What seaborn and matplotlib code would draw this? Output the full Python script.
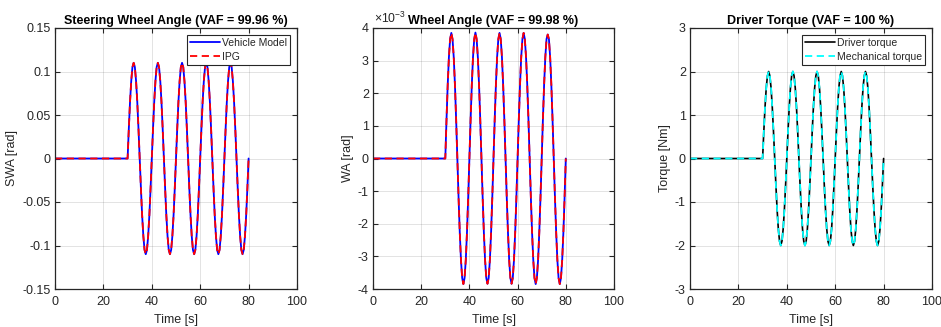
import matplotlib
matplotlib.use("Agg")
import matplotlib.pyplot as plt
import seaborn as sns
import pandas as pd

# ---------------- data ----------------
time_s = [0.0,
    30.0, 30.5, 31.0, 31.5, 32.0, 32.5, 33.0, 33.5, 34.0, 34.5, 35.0, 35.5, 36.0, 36.5, 37.0, 37.5, 38.0, 38.5, 39.0, 39.5,
    40.0, 40.5, 41.0, 41.5, 42.0, 42.5, 43.0, 43.5, 44.0, 44.5, 45.0, 45.5, 46.0, 46.5, 47.0, 47.5, 48.0, 48.5, 49.0, 49.5,
    50.0, 50.5, 51.0, 51.5, 52.0, 52.5, 53.0, 53.5, 54.0, 54.5, 55.0, 55.5, 56.0, 56.5, 57.0, 57.5, 58.0, 58.5, 59.0, 59.5,
    60.0, 60.5, 61.0, 61.5, 62.0, 62.5, 63.0, 63.5, 64.0, 64.5, 65.0, 65.5, 66.0, 66.5, 67.0, 67.5, 68.0, 68.5, 69.0, 69.5,
    70.0, 70.5, 71.0, 71.5, 72.0, 72.5, 73.0, 73.5, 74.0, 74.5, 75.0, 75.5, 76.0, 76.5, 77.0, 77.5, 78.0, 78.5, 79.0, 79.5,
    80.0]

swa_rad = [0.0,
    0.0, 0.034, 0.065, 0.089, 0.105, 0.110, 0.105, 0.089, 0.065, 0.034, 0.0, -0.034, -0.065, -0.089, -0.105, -0.110, -0.105, -0.089, -0.065, -0.034,
    0.0, 0.034, 0.065, 0.089, 0.105, 0.110, 0.105, 0.089, 0.065, 0.034, 0.0, -0.034, -0.065, -0.089, -0.105, -0.110, -0.105, -0.089, -0.065, -0.034,
    0.0, 0.034, 0.065, 0.089, 0.105, 0.110, 0.105, 0.089, 0.065, 0.034, 0.0, -0.034, -0.065, -0.089, -0.105, -0.110, -0.105, -0.089, -0.065, -0.034,
    0.0, 0.034, 0.065, 0.089, 0.105, 0.110, 0.105, 0.089, 0.065, 0.034, 0.0, -0.034, -0.065, -0.089, -0.105, -0.110, -0.105, -0.089, -0.065, -0.034,
    0.0, 0.034, 0.065, 0.089, 0.105, 0.110, 0.105, 0.089, 0.065, 0.034, 0.0, -0.034, -0.065, -0.089, -0.105, -0.110, -0.105, -0.089, -0.065, -0.034,
    0.0]

wa_mrad = [0.0,
    0.0, 1.19, 2.26, 3.11, 3.66, 3.85, 3.66, 3.11, 2.26, 1.19, 0.0, -1.19, -2.26, -3.11, -3.66, -3.85, -3.66, -3.11, -2.26, -1.19,
    0.0, 1.19, 2.26, 3.11, 3.66, 3.86, 3.66, 3.11, 2.26, 1.19, 0.0, -1.19, -2.26, -3.11, -3.66, -3.84, -3.66, -3.11, -2.26, -1.19,
    0.0, 1.19, 2.26, 3.11, 3.66, 3.85, 3.66, 3.11, 2.26, 1.19, 0.0, -1.19, -2.26, -3.11, -3.66, -3.84, -3.66, -3.11, -2.26, -1.19,
    0.0, 1.19, 2.26, 3.11, 3.66, 3.85, 3.66, 3.11, 2.26, 1.19, 0.0, -1.19, -2.26, -3.11, -3.66, -3.85, -3.66, -3.11, -2.26, -1.19,
    0.0, 1.19, 2.26, 3.11, 3.66, 3.80, 3.66, 3.11, 2.26, 1.19, 0.0, -1.19, -2.26, -3.11, -3.66, -3.85, -3.66, -3.11, -2.26, -1.19,
    0.0]

torque_nm = [0.0,
    0.0, 0.62, 1.18, 1.62, 1.90, 2.00, 1.90, 1.62, 1.18, 0.62, 0.0, -0.62, -1.18, -1.62, -1.90, -2.00, -1.90, -1.62, -1.18, -0.62,
    0.0, 0.62, 1.18, 1.62, 1.90, 2.00, 1.90, 1.62, 1.18, 0.62, 0.0, -0.62, -1.18, -1.62, -1.90, -2.00, -1.90, -1.62, -1.18, -0.62,
    0.0, 0.62, 1.18, 1.62, 1.90, 2.00, 1.90, 1.62, 1.18, 0.62, 0.0, -0.62, -1.18, -1.62, -1.90, -2.00, -1.90, -1.62, -1.18, -0.62,
    0.0, 0.62, 1.18, 1.62, 1.90, 2.00, 1.90, 1.62, 1.18, 0.62, 0.0, -0.62, -1.18, -1.62, -1.90, -2.00, -1.90, -1.62, -1.18, -0.62,
    0.0, 0.62, 1.18, 1.62, 1.90, 2.00, 1.90, 1.62, 1.18, 0.62, 0.0, -0.62, -1.18, -1.62, -1.90, -2.00, -1.90, -1.62, -1.18, -0.62,
    0.0]

x_ticks = [0, 20, 40, 60, 80, 100]
swa_ticks = [-0.15, -0.1, -0.05, 0, 0.05, 0.1, 0.15]
swa_ticklabels = ["-0.15", "-0.1", "-0.05", "0", "0.05", "0.1", "0.15"]
wa_ticks = [-4, -3, -2, -1, 0, 1, 2, 3, 4]
wa_ticklabels = ["-4", "-3", "-2", "-1", "0", "1", "2", "3", "4"]
tq_ticks = [-3, -2, -1, 0, 1, 2, 3]
tq_ticklabels = ["-3", "-2", "-1", "0", "1", "2", "3"]

titles = ["Steering Wheel Angle (VAF = 99.96 %)",
          "Wheel Angle (VAF = 99.98 %)",
          "Driver Torque (VAF = 100 %)"]
ylabels = ["SWA [rad]", "WA [rad]", "Torque [Nm]"]
legend1 = ["Vehicle Model", "IPG"]
legend3 = ["Driver torque", "Mechanical torque"]

# ---------------- style ----------------
sns.set_theme(style="white")
plt.rcParams["font.family"] = ["Liberation Sans", "DejaVu Sans"]
plt.rcParams["mathtext.fontset"] = "custom"
plt.rcParams["mathtext.rm"] = "Liberation Sans"
plt.rcParams["mathtext.it"] = "Liberation Sans"
DARK = "#262626"

fig = plt.figure(figsize=(9.41, 3.27), dpi=100)
positions = [
    [55 / 941, 38 / 327, 242 / 941, 261 / 327],
    [373 / 941, 38 / 327, 241 / 941, 261 / 327],
    [690 / 941, 38 / 327, 242 / 941, 261 / 327],
]
axes = [fig.add_axes(p) for p in positions]

df = pd.DataFrame({"t": time_s, "swa": swa_rad, "wa": wa_mrad, "tq": torque_nm})


def style_axis(ax, yticks, yticklabels, ylim, ylabel, title):
    ax.set_xlim(0, 100)
    ax.set_ylim(*ylim)
    ax.set_xticks(x_ticks)
    ax.set_xticklabels([str(v) for v in x_ticks])
    ax.set_yticks(yticks)
    ax.set_yticklabels(yticklabels)
    ax.grid(True, color=DARK, alpha=0.15, linewidth=0.6)
    ax.set_axisbelow(True)
    for s in ax.spines.values():
        s.set_color(DARK)
        s.set_linewidth(0.9)
        s.set_visible(True)
    ax.tick_params(direction="in", length=3.5, width=0.8, colors=DARK,
                   labelsize=9, top=True, right=True, bottom=True, left=True,
                   pad=3)
    ax.tick_params(axis="x", pad=5)
    ax.set_xlabel("Time [s]", fontsize=9, color=DARK, labelpad=4)
    ax.set_ylabel(ylabel, fontsize=9, color=DARK, labelpad=3)
    ax.set_title(title, fontsize=9, fontweight="bold", color="black", pad=3)


def add_legend(ax):
    leg = ax.legend(loc="upper right", fontsize=7.5, frameon=True, fancybox=False,
                    edgecolor=DARK, framealpha=1, handlelength=2.9, handletextpad=0.2,
                    borderpad=0.3, labelspacing=0.35, borderaxespad=0.65)
    leg.get_frame().set_linewidth(0.8)


# Plot 1
ax = axes[0]
sns.lineplot(data=df, x="t", y="swa", ax=ax, color="#0000ff", linewidth=1.3, label=legend1[0])
sns.lineplot(data=df, x="t", y="swa", ax=ax, color="#ff0000", linewidth=1.3, linestyle=(0, (4, 2.5)), label=legend1[1])
style_axis(ax, swa_ticks, swa_ticklabels, (-0.15, 0.15), ylabels[0], titles[0])
add_legend(ax)

# Plot 2
ax = axes[1]
sns.lineplot(data=df, x="t", y="wa", ax=ax, color="#0000ff", linewidth=1.3)
sns.lineplot(data=df, x="t", y="wa", ax=ax, color="#ff0000", linewidth=1.3, linestyle=(0, (4, 2.5)))
style_axis(ax, wa_ticks, wa_ticklabels, (-4, 4), ylabels[1], titles[1])
ax.text(0.005, 1.006, r"$\times10^{-3}$", transform=ax.transAxes, fontsize=8.8,
        color=DARK, ha="left", va="bottom")

# Plot 3
ax = axes[2]
sns.lineplot(data=df, x="t", y="tq", ax=ax, color="black", linewidth=1.2, label=legend3[0])
sns.lineplot(data=df, x="t", y="tq", ax=ax, color="#00ffff", linewidth=1.3, linestyle=(0, (4, 2.5)), label=legend3[1])
style_axis(ax, tq_ticks, tq_ticklabels, (-3, 3), ylabels[2], titles[2])
add_legend(ax)

fig.savefig("out.png", dpi=100)
